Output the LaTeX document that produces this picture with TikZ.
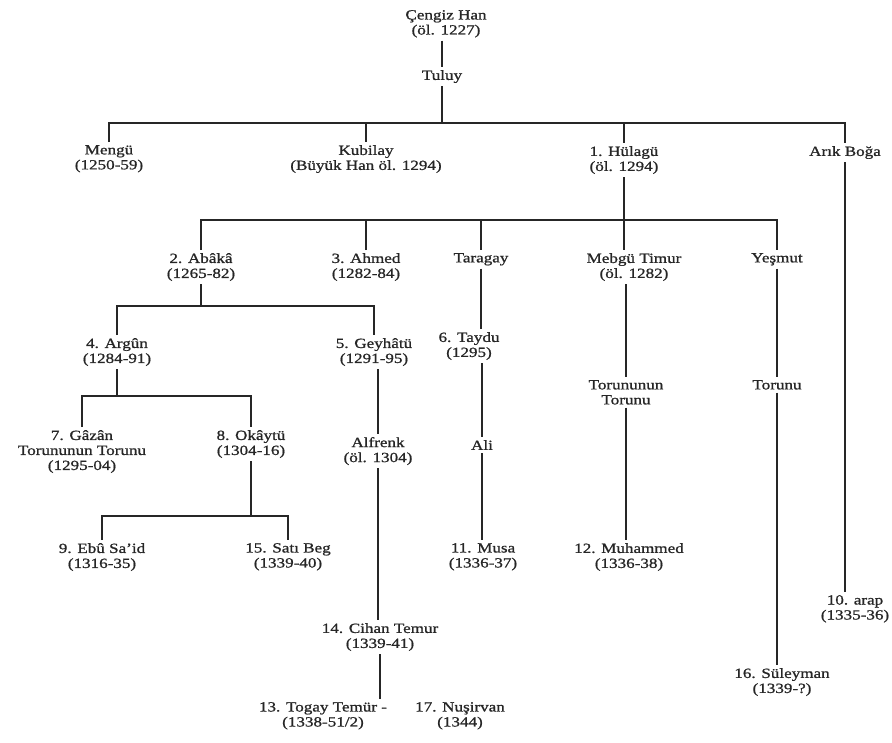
\documentclass[tikz,border=0pt]{standalone}
\usepackage{fontspec}
\setmainfont[FakeStretch=1.22,FakeBold=1.0]{Liberation Serif}
\begin{document}
\begin{tikzpicture}[x=1pt,y=-1pt,
    person/.style={anchor=north,align=center,inner xsep=0pt,inner ysep=3pt,
      text=black!85,font=\fontsize{14}{15}\selectfont},
    link/.style={line width=1.2pt,draw=black!85}]
  \useasboundingbox (0,0) rectangle (892,742);
  \node[person] (cengiz) at (446,7) {Çengiz Han\\(öl. 1227)};
  \node[person] (tuluy) at (442,67) {Tuluy};
  \node[person] (mengu) at (109,142) {Mengü\\(1250-59)};
  \node[person] (kubilay) at (366,142) {Kubilay\\(Büyük Han öl. 1294)};
  \node[person] (hulagu) at (624,143) {1. Hülagü\\(öl. 1294)};
  \node[person] (arik) at (845,143) {Arık Boğa};
  \node[person] (abaka) at (201,250) {2. Abâkâ\\(1265-82)};
  \node[person] (ahmed) at (366,250) {3. Ahmed\\(1282-84)};
  \node[person] (taragay) at (481,250) {Taragay};
  \node[person] (mebgu) at (634,250) {Mebgü Timur\\(öl. 1282)};
  \node[person] (yesmut) at (777,250) {Yeşmut};
  \node[person] (argun) at (117,335) {4. Argûn\\(1284-91)};
  \node[person] (geyhatu) at (374,335) {5. Geyhâtü\\(1291-95)};
  \node[person] (taydu) at (469,329) {6. Taydu\\(1295)};
  \node[person] (tt) at (626,377) {Torununun\\Torunu};
  \node[person] (torunu) at (777,377) {Torunu};
  \node[person] (gazan) at (82,427) {7. Gâzân\\Torununun Torunu\\(1295-04)};
  \node[person] (okaytu) at (251,427) {8. Okâytü\\(1304-16)};
  \node[person] (alfrenk) at (378,434) {Alfrenk\\(öl. 1304)};
  \node[person] (ali) at (482,437) {Ali};
  \node[person] (ebu) at (102,540) {9. Ebû Sa'id\\(1316-35)};
  \node[person] (sati) at (288,540) {15. Satı Beg\\(1339-40)};
  \node[person] (musa) at (483,540) {11. Musa\\(1336-37)};
  \node[person] (muhammed) at (629,540) {12. Muhammed\\(1336-38)};
  \node[person] (arap) at (855,592) {10. arap\\(1335-36)};
  \node[person] (cihan) at (380,620) {14. Cihan Temur\\(1339-41)};
  \node[person] (suleyman) at (782,665) {16. Süleyman\\(1339-?)};
  \node[person] (togay) at (323,699) {13. Togay Temür -\\(1338-51/2)};
  \node[person] (nusirvan) at (460,699) {17. Nuşirvan\\(1344)};
  \coordinate (bar1) at (442,123);
  \coordinate (bar2) at (624,220);
  \coordinate (bar3) at (201,306);
  \coordinate (bar4) at (117,396);
  \coordinate (bar5) at (251,516);
  \draw[link] (cengiz.south -| tuluy) -- (tuluy);
  \draw[link] (tuluy) -- (bar1);
  \draw[link] (mengu.north) |- (bar1) -| (arik.north);
  \draw[link] (kubilay |- bar1) -- (kubilay.north);
  \draw[link] (hulagu |- bar1) -- (hulagu.north);
  \draw[link] (hulagu) -- (hulagu |- mebgu.north);
  \draw[link] (abaka.north) |- (bar2) -| (yesmut.north);
  \draw[link] (ahmed |- bar2) -- (ahmed.north);
  \draw[link] (taragay |- bar2) -- (taragay.north);
  \draw[link] (arik) -- (arik |- arap.north);
  \draw[link] (abaka) -- (bar3);
  \draw[link] (argun.north) |- (bar3) -| (geyhatu.north);
  \draw[link] (argun) -- (bar4);
  \draw[link] (gazan.north) |- (bar4) -| (okaytu.north);
  \draw[link] (okaytu) -- (bar5);
  \draw[link] (ebu.north) |- (bar5) -| (sati.north);
  \draw[link] (geyhatu.south -| alfrenk) -- (alfrenk);
  \draw[link] (alfrenk) -- (alfrenk |- cihan.north);
  \draw[link] (cihan) -- (cihan |- togay.north);
  \draw[link] (taragay) -- (taragay |- taydu.north);
  \draw[link] (taydu.south -| ali) -- (ali);
  \draw[link] (ali) -- (ali |- musa.north);
  \draw[link] (mebgu.south -| tt) -- (tt);
  \draw[link] (tt) -- (tt |- muhammed.north);
  \draw[link] (yesmut) -- (torunu);
  \draw[link] (torunu) -- (torunu |- suleyman.north);
\end{tikzpicture}
\end{document}
